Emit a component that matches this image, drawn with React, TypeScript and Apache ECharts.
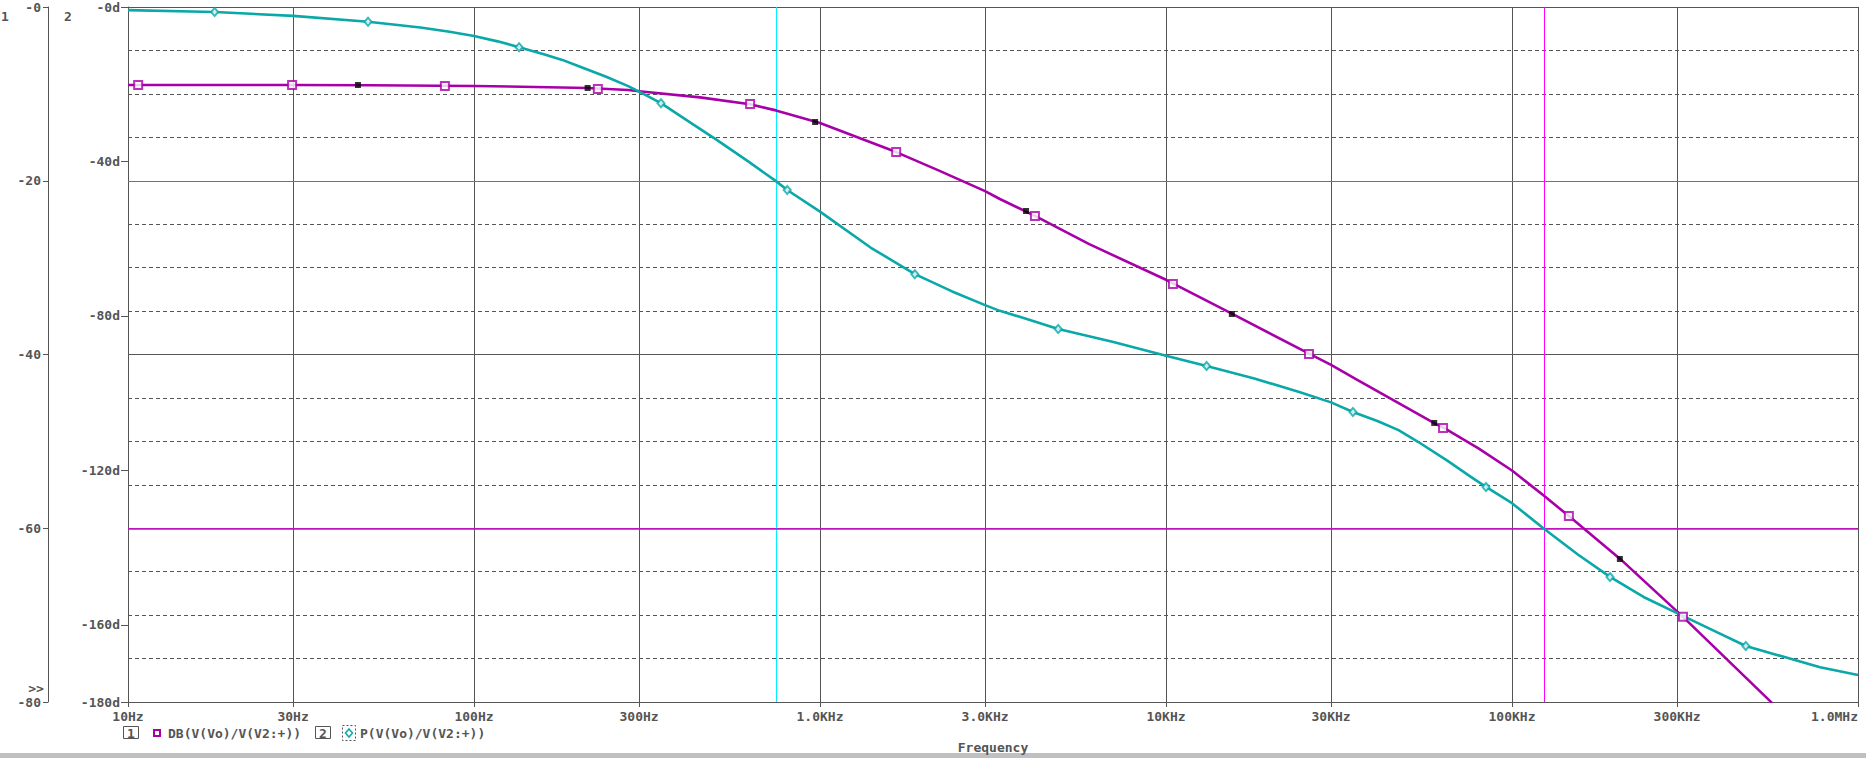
import React, { useEffect, useRef } from "react";
import * as echarts from "echarts";

// ---- data ----
const xTickValues = [10, 30, 100, 300, 1000, 3000, 10000, 30000, 100000, 300000, 1000000];
const xTickLabels = ["10Hz", "30Hz", "100Hz", "300Hz", "1.0KHz", "3.0KHz", "10KHz", "30KHz", "100KHz", "300KHz", "1.0MHz"];
const phaseTicks = [0, -40, -80, -120, -160, -180];

const magFreq = [10, 30, 50, 100, 150, 213, 279, 300, 450, 628, 746, 1000, 1660, 2200, 3000, 3310, 4180, 6000, 10000, 15500, 25900, 30000, 35600, 59600, 63200, 80000, 100000, 124000, 146000, 205000, 312000, 564000];
const magDb = [-8.98, -8.98, -9.0, -9.1, -9.2, -9.32, -9.55, -9.7, -10.4, -11.2, -11.9, -13.35, -16.7, -18.8, -21.2, -22.1, -24.05, -27.3, -31.4, -35.3, -39.9, -41.2, -42.9, -47.9, -48.4, -50.8, -53.35, -56.3, -58.6, -63.5, -70.2, -80.1];

const phFreq = [10, 17.8, 30, 49.4, 70, 85, 100, 117, 135, 160, 180, 200, 240, 279, 300, 347, 420, 503, 620, 746, 804, 1000, 1400, 1880, 2400, 3000, 3310, 3960, 4880, 7000, 10000, 13100, 18000, 24400, 30000, 34700, 41000, 47000, 53500, 65000, 77000, 84100, 100000, 124000, 155000, 192000, 240000, 300000, 380000, 474000, 777000, 1000000];
const phDeg = [-0.8, -1.3, -2.3, -3.8, -5.3, -6.4, -7.5, -8.9, -10.4, -12.3, -13.7, -15.3, -18.0, -20.5, -21.9, -24.9, -29.8, -34.4, -40.0, -45.1, -47.4, -53.0, -62.3, -69.2, -73.6, -77.2, -78.7, -80.8, -83.4, -86.7, -90.3, -93.0, -96.2, -99.8, -102.4, -104.9, -107.3, -109.6, -112.6, -117.5, -122.0, -124.3, -128.5, -135.2, -141.8, -147.6, -152.8, -157.0, -161.4, -165.5, -171.0, -173.0];

const sqFreq = [10.7, 29.8, 82.4, 228, 628, 1660, 4180, 10470, 25900, 63200, 146000, 312000];
const sqDb = [-8.98, -8.98, -9.09, -9.44, -11.17, -16.69, -24.06, -31.88, -39.94, -48.46, -58.59, -70.2];
const blkFreq = [46.2, 213, 968, 3940, 15500, 59600, 205000];
const blkDb = [-8.98, -9.32, -13.24, -23.48, -35.34, -47.88, -63.54];
const dmFreq = [17.8, 49.4, 135, 347, 804, 1880, 4880, 13100, 34700, 84100, 192000, 474000];
const dmDeg = [-1.3, -3.8, -10.4, -24.9, -47.4, -69.2, -83.4, -93.0, -104.9, -124.3, -147.6, -165.5];

const cursorFreqs = [746, 124000];
const cursorPhases = [-45.1, -135.2];

const magName = "DB(V(Vo)/V(V2:+))";
const phName = "P(V(Vo)/V(V2:+))";

// ---- styles ----
const GRID = "#555555";
const TXT = "#555555";
const MAG = "#a800a8";
const PH = "#0aa8a8";
const FF = '"DejaVu Sans Mono", monospace';
const FONT = `bold 13px ${FF}`;

const zip = (a: number[], b: number[]) => a.map((v, i) => [v, b[i]]);

function txt(text: string, x: number, y: number, align = "center", extra: any = {}) {
  return {
    type: "text",
    x,
    y,
    z: 10,
    style: { text, fill: TXT, font: FONT, align, verticalAlign: "middle", textAlign: align, textVerticalAlign: "middle", ...extra },
  };
}

export default function App() {
  const ref = useRef<HTMLDivElement>(null);
  useEffect(() => {
    const chart = echarts.init(ref.current!, null, { renderer: "svg" });
    const labelStyle = { color: TXT, fontFamily: FF, fontSize: 13, fontWeight: "bold" as const };
    chart.setOption({
      animation: false,
      backgroundColor: "#ffffff",
      grid: { left: 128, right: 8, top: 7, bottom: 56 },
      xAxis: {
        type: "log",
        logBase: 10,
        min: 10,
        max: 1000000,
        axisLine: { show: true, onZero: false, lineStyle: { color: GRID, width: 1 } },
        axisTick: { show: true, customValues: xTickValues, length: 5, lineStyle: { color: GRID } },
        axisLabel: {
          ...labelStyle,
          customValues: xTickValues,
          margin: 8,
          alignMaxLabel: "right",
          formatter: (v: number) => {
            let best = 0;
            xTickValues.forEach((t, i) => {
              if (Math.abs(Math.log10(t) - Math.log10(v)) < Math.abs(Math.log10(xTickValues[best]) - Math.log10(v))) best = i;
            });
            return xTickLabels[best];
          },
        },
        splitLine: { show: true, lineStyle: { color: GRID, width: 1 } },
        minorTick: { show: false },
        minorSplitLine: { show: false },
      },
      yAxis: [
        {
          type: "value",
          min: -180,
          max: 0,
          position: "left",
          offset: 0,
          axisLine: { show: true, lineStyle: { color: GRID, width: 1 } },
          axisTick: { show: true, customValues: phaseTicks, length: 7, lineStyle: { color: GRID } },
          axisLabel: {
            ...labelStyle,
            customValues: phaseTicks,
            margin: 8,
            formatter: (v: number) => (v === 0 ? "-0d" : `${v}d`),
          },
          splitLine: { show: false },
        },
        {
          type: "value",
          min: -80,
          max: 0,
          interval: 20,
          position: "left",
          offset: 80,
          axisLine: { show: true, lineStyle: { color: GRID, width: 1 } },
          axisTick: { show: true, length: 5, lineStyle: { color: GRID } },
          axisLabel: {
            ...labelStyle,
            margin: 7,
            formatter: (v: number) => (v === 0 ? "-0" : `${v}`),
          },
          splitLine: { show: true, lineStyle: { color: GRID, width: 1 } },
          minorTick: { show: false, splitNumber: 4 },
          minorSplitLine: { show: true, lineStyle: { color: GRID, width: 1, type: [4, 3] } },
        },
      ],
      series: [
        {
          name: "cursors",
          type: "line",
          yAxisIndex: 0,
          data: [],
          z: 1,
          markLine: {
            silent: true,
            symbol: ["none", "none"],
            label: { show: false },
            z: 1,
            data: [
              { xAxis: cursorFreqs[0], lineStyle: { color: "#00f0ff", width: 1, type: "solid" } },
              { xAxis: cursorFreqs[1], lineStyle: { color: "#ff00ff", width: 1, type: "solid" } },
              { yAxis: cursorPhases[0], lineStyle: { color: "#b4584f", width: 1, type: "solid" } },
              { yAxis: cursorPhases[1], lineStyle: { color: "#e000e0", width: 1.5, type: "solid" } },
            ],
          },
        },
        {
          name: magName,
          type: "line",
          yAxisIndex: 1,
          data: zip(magFreq, magDb),
          symbol: "none",
          smooth: false,
          lineStyle: { color: MAG, width: 2.6, join: "round" },
          z: 3,
        },
        {
          name: phName,
          type: "line",
          yAxisIndex: 0,
          data: zip(phFreq, phDeg),
          symbol: "none",
          smooth: false,
          lineStyle: { color: PH, width: 2.6, join: "round" },
          z: 3,
        },
        {
          name: magName + " markers",
          type: "scatter",
          yAxisIndex: 1,
          data: zip(sqFreq, sqDb),
          symbol: "rect",
          symbolSize: 8,
          itemStyle: { color: "#ffffff", borderColor: MAG, borderWidth: 2 },
          z: 4,
        },
        {
          name: "points",
          type: "scatter",
          yAxisIndex: 1,
          data: zip(blkFreq, blkDb),
          symbol: "rect",
          symbolSize: 6,
          itemStyle: { color: "#000000" },
          z: 4,
        },
        {
          name: phName + " markers",
          type: "scatter",
          yAxisIndex: 0,
          data: zip(dmFreq, dmDeg),
          symbol: "diamond",
          symbolSize: [7, 8],
          itemStyle: { color: "#ffffff", borderColor: PH, borderWidth: 2 },
          z: 4,
        },
      ],
      graphic: [
        txt("1", 5, 16),
        txt("2", 68, 16),
        txt(">>", 36, 688),
        txt("Frequency", 993, 747),
        { type: "rect", shape: { x: 123.5, y: 726.5, width: 15, height: 12 }, style: { fill: "none", stroke: TXT, lineWidth: 1 } },
        txt("1", 131, 733),
        { type: "rect", shape: { x: 154, y: 730, width: 6, height: 6 }, style: { fill: "#fff", stroke: MAG, lineWidth: 2 } },
        txt(magName, 168, 733, "left"),
        { type: "rect", shape: { x: 315.5, y: 726.5, width: 15, height: 12 }, style: { fill: "none", stroke: TXT, lineWidth: 1 } },
        txt("2", 323, 733),
        { type: "rect", shape: { x: 342.5, y: 725.5, width: 13, height: 15 }, style: { fill: "none", stroke: TXT, lineWidth: 1, lineDash: [2, 2] } },
        { type: "polygon", shape: { points: [[349, 729], [352.5, 733], [349, 737], [345.5, 733]] }, style: { fill: "#fff", stroke: PH, lineWidth: 1.5 } },
        txt(phName, 360, 733, "left"),
        { type: "rect", shape: { x: 0, y: 753, width: 1866, height: 5 }, style: { fill: "#c0c0c0" } },
      ],
    });
    return () => chart.dispose();
  }, []);
  return (
    <div
      ref={ref}
      style={{ position: "fixed", left: 0, top: 0, width: 1866, height: 758, background: "#ffffff" }}
    />
  );
}
